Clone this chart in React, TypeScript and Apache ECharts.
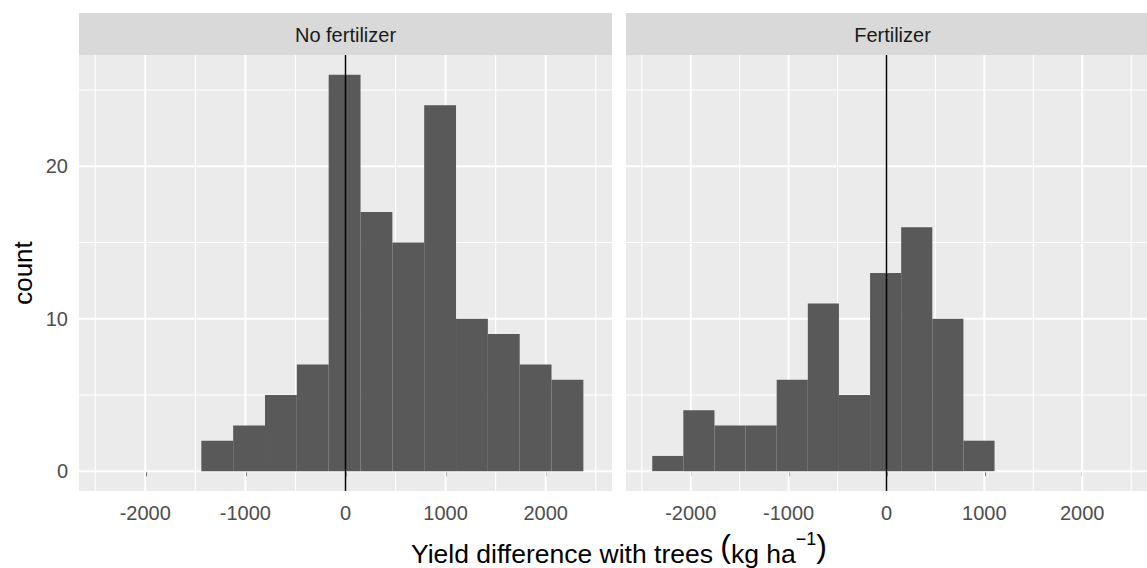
import React, { useEffect, useRef } from "react";
import * as echarts from "echarts";

// Histogram bin edges (kg/ha), shared by both panels
const binEdges = [-2394, -2076, -1758, -1440, -1122, -804, -486, -168, 150, 468, 786, 1104, 1422, 1740, 2058, 2376];
// Counts per bin
const countsNoFertilizer = [0, 0, 0, 2, 3, 5, 7, 26, 17, 15, 24, 10, 9, 7, 6];
const countsFertilizer = [1, 4, 3, 3, 6, 11, 5, 13, 16, 10, 2, 0, 0, 0, 0];
const panelNames = ["No fertilizer", "Fertilizer"];

const xMajor = [-2000, -1000, 0, 1000, 2000];
const xMinor = [-2500, -1500, -500, 500, 1500, 2500];
const yMajor = [0, 10, 20];
const yMinor = [5, 15, 25];
const refLine = [0];

const X_MIN = -2662;
const X_MAX = 2662;
const Y_MIN = -1.3;
const Y_MAX = 27.3;

const FONT = "'Liberation Sans', Arial, sans-serif";

function binData(counts: number[]) {
  const out: number[][] = [];
  counts.forEach((c, i) => {
    if (c > 0) out.push([binEdges[i], binEdges[i + 1], c]);
  });
  return out;
}

function vLines(values: number[], gi: number, width: number, color: string, z: number) {
  return {
    type: "custom",
    xAxisIndex: gi,
    yAxisIndex: gi,
    z,
    silent: true,
    data: values.map((v) => [v, 0]),
    renderItem: (params: any, api: any) => {
      const p = api.coord([api.value(0), 0]);
      const cs = params.coordSys;
      return {
        type: "line",
        shape: { x1: p[0], y1: cs.y, x2: p[0], y2: cs.y + cs.height },
        style: { stroke: color, lineWidth: width },
      };
    },
  };
}

function hLines(values: number[], gi: number, width: number, color: string, z: number) {
  return {
    type: "custom",
    xAxisIndex: gi,
    yAxisIndex: gi,
    z,
    silent: true,
    data: values.map((v) => [0, v]),
    renderItem: (params: any, api: any) => {
      const p = api.coord([0, api.value(1)]);
      const cs = params.coordSys;
      return {
        type: "line",
        shape: { x1: cs.x, y1: p[1], x2: cs.x + cs.width, y2: p[1] },
        style: { stroke: color, lineWidth: width },
      };
    },
  };
}

function barsSeries(counts: number[], gi: number) {
  return {
    type: "custom",
    xAxisIndex: gi,
    yAxisIndex: gi,
    z: 3,
    silent: true,
    encode: { x: [0, 1], y: 2 },
    data: binData(counts),
    renderItem: (_params: any, api: any) => {
      const p0 = api.coord([api.value(0), 0]);
      const p1 = api.coord([api.value(1), api.value(2)]);
      return {
        type: "rect",
        shape: { x: p0[0], y: p1[1], width: p1[0] - p0[0], height: p0[1] - p1[1] },
        style: { fill: "#595959" },
      };
    },
  };
}

const GRID_TOP = 55;
const GRID_H = 436;
const GRID_W = 533;
const GRID_LEFTS = [79, 626];

function measure(text: string, size: number): number {
  const c = document.createElement("canvas").getContext("2d");
  if (!c) return text.length * size * 0.5;
  c.font = `${size}px 'Liberation Sans', Arial, sans-serif`;
  return c.measureText(text).width;
}

export default function App() {
  const ref = useRef<HTMLDivElement>(null);

  useEffect(() => {
    if (!ref.current) return;
    const chart = echarts.init(ref.current, undefined, { renderer: "svg" });

    const grids = GRID_LEFTS.map((l) => ({
      left: l,
      top: GRID_TOP,
      width: GRID_W,
      height: GRID_H,
      show: true,
      backgroundColor: "#EBEBEB",
      borderWidth: 0,
    }));

    const xAxes = [0, 1].map((gi) => ({
      type: "value",
      gridIndex: gi,
      min: X_MIN,
      max: X_MAX,
      splitLine: { show: false },
      axisLine: { show: false },
      axisTick: {
        show: true,
        customValues: xMajor,
        length: 5,
        lineStyle: { color: "#333333", width: 2 },
      },
      axisLabel: {
        customValues: xMajor,
        color: "#4D4D4D",
        fontSize: 20,
        fontFamily: FONT,
        margin: 12,
        formatter: (v: number) => String(v),
      },
    }));

    const yAxes = [0, 1].map((gi) => ({
      type: "value",
      gridIndex: gi,
      min: Y_MIN,
      max: Y_MAX,
      splitLine: { show: false },
      axisLine: { show: false },
      axisTick: {
        show: gi === 0,
        customValues: yMajor,
        length: 5,
        lineStyle: { color: "#333333", width: 2 },
      },
      axisLabel: {
        show: gi === 0,
        customValues: yMajor,
        color: "#4D4D4D",
        fontSize: 20,
        fontFamily: FONT,
        margin: 11,
        formatter: (v: number) => String(v),
      },
    }));

    const series: any[] = [];
    [countsNoFertilizer, countsFertilizer].forEach((counts, gi) => {
      series.push(vLines(xMinor, gi, 1.1, "#FFFFFF", 1));
      series.push(hLines(yMinor, gi, 1.1, "#FFFFFF", 1));
      series.push(vLines(xMajor, gi, 2, "#FFFFFF", 2));
      series.push(hLines(yMajor, gi, 2, "#FFFFFF", 2));
      series.push(barsSeries(counts, gi));
      series.push(vLines(refLine, gi, 1.5, "#000000", 4));
    });

    const graphics: any[] = [];
    GRID_LEFTS.forEach((l, i) => {
      graphics.push({
        type: "rect",
        shape: { x: l, y: 13, width: GRID_W, height: 42 },
        style: { fill: "#D9D9D9" },
        silent: true,
      });
      graphics.push({
        type: "text",
        x: l + GRID_W / 2,
        y: 35,
        style: {
          text: panelNames[i],
          fill: "#1A1A1A",
          fontSize: 20,
          fontFamily: FONT,
          align: "center",
          verticalAlign: "middle",
        },
        silent: true,
      });
    });
    graphics.push({
      type: "text",
      x: 23,
      y: GRID_TOP + GRID_H / 2,
      rotation: Math.PI / 2,
      style: {
        text: "count",
        fill: "#000000",
        fontSize: 26,
        fontFamily: FONT,
        align: "center",
        verticalAlign: "middle",
      },
      silent: true,
    });

    // x-axis title built from pieces (superscript and tall parentheses)
    const pieces = [
      { t: "Yield difference with trees ", s: 26.5, y: 554 },
      { t: "(", s: 32, y: 546 },
      { t: "kg ha", s: 26.5, y: 554 },
      { t: "\u22121", s: 18, y: 539 },
      { t: ")", s: 32, y: 546 },
    ];
    const widths = pieces.map((p) => measure(p.t, p.s));
    const total = widths.reduce((a, b) => a + b, 0);
    let cx = (GRID_LEFTS[0] + GRID_LEFTS[1] + GRID_W) / 2 - total / 2;
    pieces.forEach((p, i) => {
      graphics.push({
        type: "text",
        x: cx,
        y: p.y,
        style: {
          text: p.t,
          fill: "#000000",
          fontSize: p.s,
          fontFamily: FONT,
          align: "left",
          verticalAlign: "middle",
        },
        silent: true,
      });
      cx += widths[i];
    });

    chart.setOption({
      animation: false,
      backgroundColor: "#FFFFFF",
      grid: grids,
      xAxis: xAxes,
      yAxis: yAxes,
      series,
      graphic: graphics,
    });

    return () => chart.dispose();
  }, []);

  return (
    <div
      ref={ref}
      style={{ position: "absolute", left: 0, top: 0, width: 1147, height: 568 }}
    />
  );
}
